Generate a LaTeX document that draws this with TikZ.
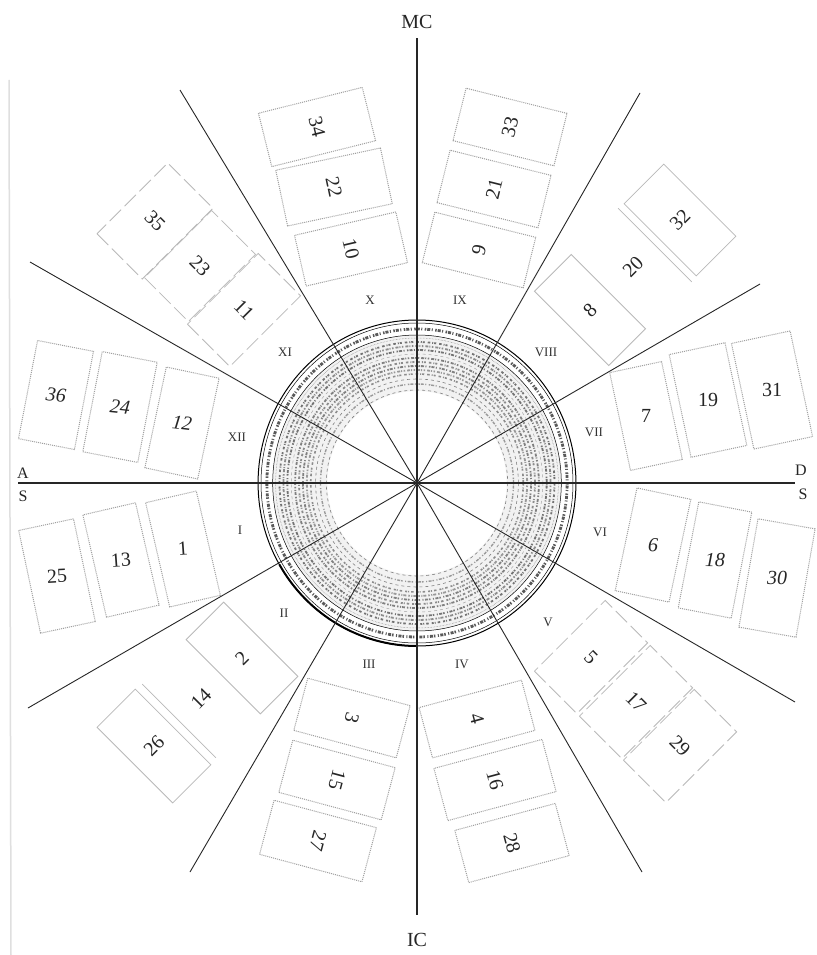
\documentclass[tikz,border=0pt]{standalone}
\usepackage{fontspec}
\setmainfont{Liberation Serif}
\tikzset{
  radial/.style={line width=0.9pt, black!85},
  cardtext/.style={font=\fontsize{20}{22}\selectfont, text=black!85, inner sep=0pt},
  dotbox/.style={draw=gray!75, densely dotted, line width=1pt},
  lightbox/.style={draw=gray!55, line width=0.8pt},
  dashbox/.style={draw=gray!55, line width=0.8pt, dash pattern=on 16pt off 5pt},
  house/.style={font=\fontsize{13}{15}\selectfont, text=black!80, inner sep=0pt},
  axislab/.style={font=\fontsize{20}{22}\selectfont, text=black!85, inner sep=0pt},
  sidelab/.style={font=\fontsize{16}{18}\selectfont, text=black!85, inner sep=0pt},
  scriptA/.style={dash pattern=on 1.5pt off 1pt on 3pt off 1.5pt on 1pt off 2.5pt},
  scriptB/.style={dash pattern=on 2.5pt off 2pt on 1pt off 1pt on 2pt off 3pt},
  scriptC/.style={dash pattern=on 1pt off 1.5pt on 1.5pt off 2pt on 3pt off 1pt},
}
% name, centre, box rotation, width, height, box style, number rotation, number
\newcommand{\card}[8]{%
  \begin{scope}[shift={(#2)}, rotate=#3]
    \draw[#6] (-#4/2,-#5/2) rectangle (#4/2,#5/2);
    \node[cardtext, rotate=#7] (#1) at (0,0) {#8};
  \end{scope}}
% same, but only one long edge drawn: which = -1 (upper side before rotation) or 1 (lower side)
\newcommand{\opencard}[9]{%
  \begin{scope}[shift={(#2)}, rotate=#3]
    \draw[#6] (-#4/2,#9*#5/2) -- (#4/2,#9*#5/2);
    \node[cardtext, rotate=#7] (#1) at (0,0) {#8};
  \end{scope}}
\begin{document}
\begin{tikzpicture}[x=1pt,y=-1pt]
\useasboundingbox (0,0) rectangle (816,955);
\fill[white] (0,0) rectangle (816,955);
\draw[gray!25, line width=1.5pt] (9,80) -- (11,955);
\coordinate (C) at (417,483);

% ---- ring ----
\begin{scope}[shift={(C)}, xscale=0.975]
  \fill[gray!10, even odd rule] (0,0) circle[radius=148] (0,0) circle[radius=92];
  \draw[line width=1pt] (0,0) circle[radius=163];
  \draw[line width=0.5pt] (0,0) circle[radius=160];
  \draw[black!65, line width=2.8pt, scriptA] (0,0) circle[radius=154];
  \draw[line width=0.5pt] (0,0) circle[radius=148];
  \draw[gray, densely dotted, line width=0.5pt] (0,0) circle[radius=145];
  \draw[black!55, line width=1.8pt, scriptB] (0,0) circle[radius=141];
  \draw[black!45, line width=1.8pt, scriptC] (0,0) circle[radius=137];
  \draw[black!55, line width=1.8pt, scriptA] (0,0) circle[radius=133];
  \draw[gray!70, line width=0.5pt, dashed] (0,0) circle[radius=129];
  \draw[black!50, line width=1.8pt, scriptC] (0,0) circle[radius=125];
  \draw[black!45, line width=1.8pt, scriptB] (0,0) circle[radius=121];
  \draw[black!50, line width=1.8pt, scriptA] (0,0) circle[radius=117];
  \draw[black!40, line width=1.8pt, scriptC] (0,0) circle[radius=113];
  \draw[black!45, line width=1.6pt, scriptB] (0,0) circle[radius=109];
  \draw[gray, dashed, line width=0.6pt] (0,0) circle[radius=104];
  \draw[black!40, line width=1.4pt, scriptA] (0,0) circle[radius=99];
  \draw[gray, dashed, line width=0.6pt] (0,0) circle[radius=93];
  \draw[line width=2pt] (150:163) arc[start angle=150, end angle=90, radius=163];
\end{scope}

% ---- radial lines ----
\coordinate (e0) at (795,483);
\coordinate (e180) at (18,483);
\coordinate (e90) at (417,38);
\coordinate (e270) at (417,915);
\coordinate (e30) at (760,284);
\coordinate (e60) at (640,93);
\coordinate (e120) at (180,90);
\coordinate (e150) at (30,262);
\coordinate (e210) at (28,708);
\coordinate (e240) at (190,872);
\coordinate (e300) at (642,872);
\coordinate (e330) at (795,702);
\draw[radial, line width=1.3pt] (C) -- (e90);
\draw[radial, line width=1.3pt] (C) -- (e270);
\draw[radial, line width=1.2pt] (C) -- (e0);
\draw[radial, line width=1.2pt] (C) -- (e180);
\foreach \e in {e30,e60,e120,e150,e210,e240,e300,e330} \draw[radial] (C) -- (\e);

% ---- axis labels ----
\node[axislab] (mc) at (417,22) {MC};
\node[axislab] (ic) at (417,940) {IC};
\node[sidelab] (la) at (23,473) {A};
\node[sidelab] (ls) at (23,496) {S};
\node[sidelab] (ld) at (801,470) {D};
\node[sidelab] (rs) at (803,494) {S};

% ---- house numerals ----
\node[house] (hI) at (240,530) {I};
\node[house] (hII) at (284,613) {II};
\node[house] (hIII) at (369,664) {III};
\node[house] (hIV) at (462,664) {IV};
\node[house] (hV) at (548,622) {V};
\node[house] (hVI) at (600,532) {VI};
\node[house] (hVII) at (594,432) {VII};
\node[house] (hVIII) at (546,352) {VIII};
\node[house] (hIX) at (460,300) {IX};
\node[house] (hX) at (370,300) {X};
\node[house] (hXI) at (285,352) {XI};
\node[house] (hXII) at (237,437) {XII};

% ---- boxes with their numbers ----
% XII
\card{b36}{56,395}{-11}{57}{100}{dotbox}{-6}{\itshape 36}
\card{b24}{120,407}{-11}{56}{102}{dotbox}{-6}{\itshape 24}
\card{b12}{182,423}{-12}{54}{103}{dotbox}{-7}{\itshape 12}
% I
\card{b1}{183,549}{13}{52}{107}{dotbox}{4}{1}
\card{b13}{121,560}{13}{54}{105}{dotbox}{4}{13}
\card{b25}{57,576}{12}{56}{105}{dotbox}{3}{25}
% VII
\card{b7}{646,416}{12}{53}{100}{dotbox}{0}{7}
\card{b19}{708,400}{12}{57}{105}{dotbox}{0}{19}
\card{b31}{772,390}{12}{60}{108}{dotbox}{0}{31}
% VI
\card{b6}{653,545}{-12}{55}{105}{dotbox}{-2}{\itshape 6}
\card{b18}{715,560}{-11}{54}{108}{dotbox}{-1}{\itshape 18}
\card{b30}{777,578}{-10}{58}{110}{dotbox}{0}{\itshape 30}
% X
\card{b34}{317,127}{14}{107}{55}{dotbox}{-76}{34}
\card{b22}{334,187}{12}{107}{57}{dotbox}{-78}{22}
\card{b10}{351,249}{13}{104}{52}{dotbox}{-77}{10}
% IX
\card{b33}{510,127}{-14}{104}{54}{dotbox}{76}{33}
\card{b21}{494,189}{-14}{104}{54}{dotbox}{76}{21}
\card{b9}{479,250}{-14}{104}{52}{dotbox}{76}{9}
% III
\card{b3}{352,718}{-15}{106}{54}{dotbox}{-105}{3}
\card{b15}{337,780}{-15}{106}{54}{dotbox}{-105}{15}
\card{b27}{318,841}{-15}{106}{56}{dotbox}{-105}{27}
% IV
\card{b4}{477,719}{15}{106}{52}{dotbox}{-75}{4}
\card{b16}{495,780}{15}{112}{54}{dotbox}{-75}{16}
\card{b28}{512,843}{15}{104}{54}{dotbox}{-75}{28}
% VIII
\card{b8}{590,310}{-45}{105}{52}{lightbox}{45}{8}
\opencard{b20}{633,267}{-45}{104}{62}{lightbox}{45}{20}{-1}
\card{b32}{680,220}{-45}{102}{56}{lightbox}{45}{32}
% XI
\card{b11}{244,310}{45}{100}{60}{dashbox}{-45}{11}
\card{b23}{200,266}{45}{95}{62}{dashbox}{-45}{23}
\card{b35}{155,221}{45}{100}{64}{dashbox}{-45}{35}
% II
\card{b2}{242,658}{-45}{105}{53}{lightbox}{45}{2}
\opencard{b14}{201,699}{-45}{104}{62}{lightbox}{45}{14}{1}
\card{b26}{154,746}{-45}{107}{54}{lightbox}{45}{26}
% V
\card{b5}{591,657}{45}{100}{60}{dashbox}{-45}{5}
\card{b17}{636,702}{45}{100}{60}{dashbox}{-45}{17}
\card{b29}{680,746}{45}{100}{60}{dashbox}{-45}{29}
\end{tikzpicture}
\end{document}
